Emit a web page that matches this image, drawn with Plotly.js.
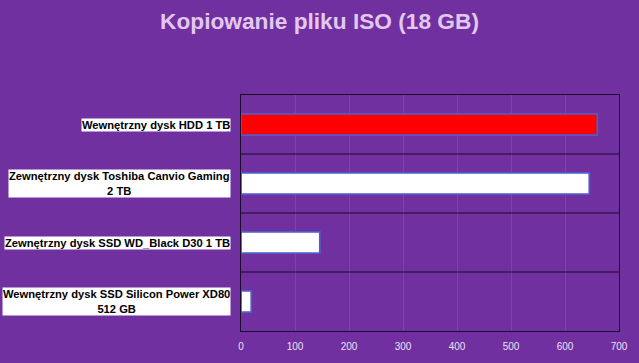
<!DOCTYPE html>
<html><head><meta charset="utf-8">
<script src="https://cdn.plot.ly/plotly-3.0.1.min.js"></script>
<style>body{margin:0;padding:0;background:#7030a0;}#c{width:639px;height:363px;}</style>
</head><body><div id="c"></div>
<script>
const categories = [
  "Wewnętrzny dysk HDD 1 TB",
  "Zewnętrzny dysk Toshiba Canvio Gaming<br>2 TB",
  "Zewnętrzny dysk SSD WD_Black D30 1 TB",
  "Wewnętrzny dysk SSD Silicon Power XD80<br>512 GB"
];
const values = [660, 645, 146, 19];
const barColors = ["#ff0000", "#ffffff", "#ffffff", "#ffffff"];
const xTicks = [0, 100, 200, 300, 400, 500, 600, 700];
const titleText = "Kopiowanie pliku ISO (18 GB)";

const trace = {
  type: "bar", orientation: "h",
  x: values, y: categories,
  width: 0.36,
  marker: {color: barColors, line: {color: "#4f5cc8", width: 1.8}},
  hoverinfo: "x"
};

const separators = [];
for (let i = 0; i < categories.length - 1; i++) {
  separators.push({type: "line", xref: "paper", yref: "y", x0: 0, x1: 1, y0: i + 0.5, y1: i + 0.5,
    line: {color: "#1a0a2a", width: 1}});
}
const labels = categories.map(c => ({
  xref: "paper", yref: "y", x: 0, y: c, xanchor: "right", yanchor: "middle", xshift: -10,
  text: "<b>" + c + "</b>", showarrow: false, align: "center",
  bgcolor: "#ffffff", borderpad: 0,
  font: {family: "Liberation Sans, Arial, sans-serif", size: 11.2, color: "#000000"}
}));

const layout = {
  width: 639, height: 363,
  paper_bgcolor: "#7030a0", plot_bgcolor: "#7030a0",
  margin: {l: 241, r: 20, t: 95, b: 32},
  showlegend: false,
  title: {text: "<b>" + titleText + "</b>", x: 0.5, xanchor: "center", y: 0.943, yanchor: "middle", yref: "container",
    font: {family: "Liberation Sans, Arial, sans-serif", size: 22.7, color: "#e2c8ee"}},
  xaxis: {range: [0, 700], tickvals: xTicks, ticktext: xTicks.map(String), showgrid: true, gridcolor: "#7c489f", gridwidth: 1,
    zeroline: false, showline: true, linecolor: "#1a0a2a", linewidth: 1, mirror: true, ticks: "", ticklabelstandoff: 6,
    tickfont: {family: "Liberation Sans, Arial, sans-serif", size: 10, color: "#ece2f2"}, fixedrange: true},
  yaxis: {type: "category", categoryorder: "array", categoryarray: categories, range: [3.5, -0.5],
    showticklabels: false, showgrid: false, zeroline: false, showline: true, linecolor: "#1a0a2a", linewidth: 1, mirror: true,
    ticks: "", fixedrange: true},
  shapes: separators,
  annotations: labels,
  bargap: 0.64
};
Plotly.newPlot("c", [trace], layout, {displayModeBar: false, staticPlot: true});
</script></body></html>
